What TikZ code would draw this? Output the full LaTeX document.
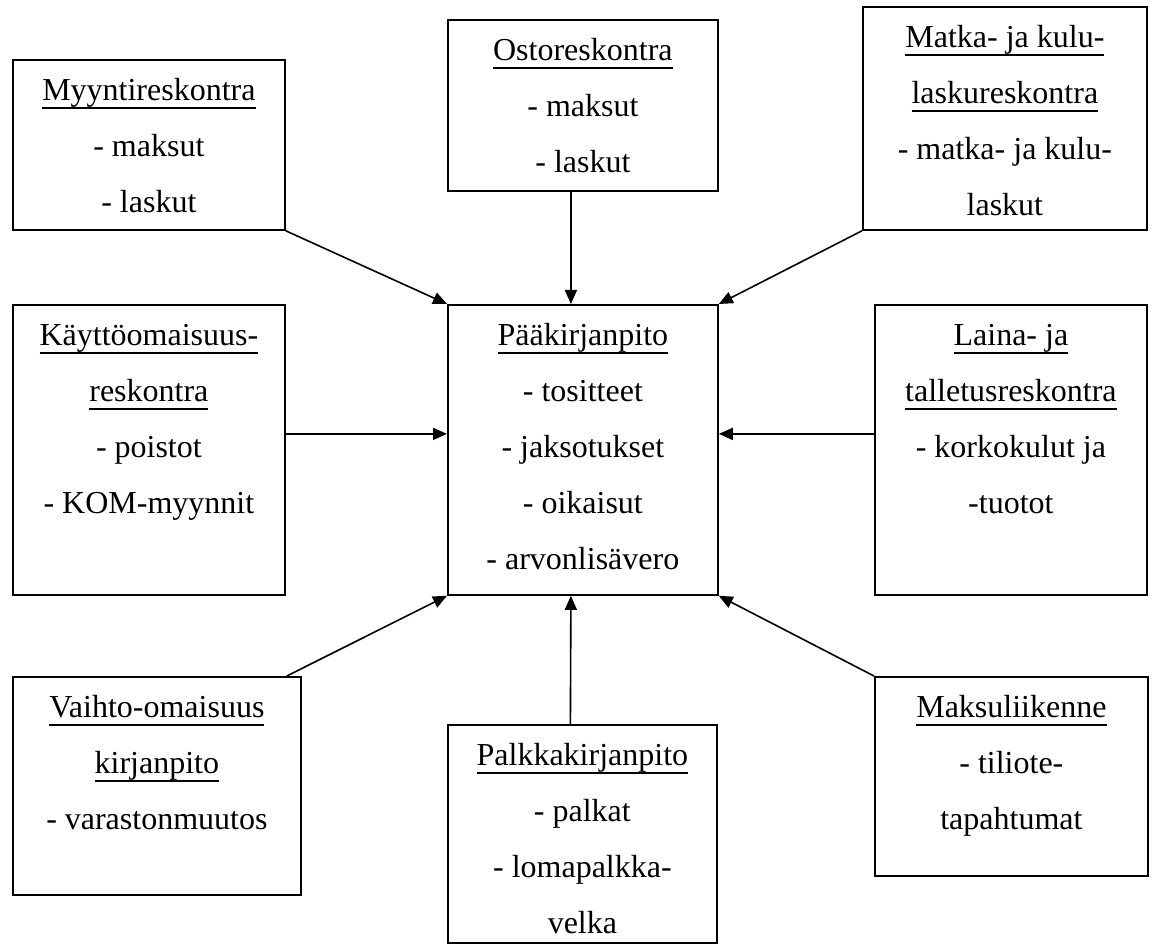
\documentclass[tikz,border=0pt]{standalone}
\usepackage{fontspec}
\setmainfont{Liberation Serif}
\usetikzlibrary{arrows.meta}
\newcommand\ulx[1]{\leavevmode\setbox0=\hbox{#1}\rlap{\rule[-8pt]{\wd0}{1.8pt}}\box0}
\newcommand\bxt[3]{\begin{minipage}[t][#2pt][t]{#1pt}\centering\fontsize{32pt}{56pt}\selectfont\rule{0pt}{41pt}#3\end{minipage}}
\tikzset{
  card/.style={draw, line width=1.8pt, inner sep=0pt, anchor=north west},
  feed/.style={line width=1.6pt, -{Triangle[length=14pt,width=12pt]}}
}
\begin{document}
\begin{tikzpicture}[x=1pt,y=-1pt]
\useasboundingbox[fill=white] (0,0) rectangle (1152,944);
\node[card] (myy) at (12,59) {\bxt{272}{170}{\ulx{Myyntireskontra}\\- maksut\\- laskut}};
\node[card] (osto) at (447,19) {\bxt{270}{171}{\ulx{Ostoreskontra}\\- maksut\\- laskut}};
\node[card] (mat) at (862,6) {\bxt{284}{223}{\ulx{Matka- ja kulu-}\\\ulx{laskureskontra}\\- matka- ja kulu-\\laskut}};
\node[card] (kay) at (12,304) {\bxt{272}{290}{\ulx{Käyttöomaisuus-}\\\ulx{reskontra}\\- poistot\\- KOM-myynnit}};
\node[card] (paa) at (447,304) {\bxt{270}{290}{\ulx{Pääkirjanpito}\\- tositteet\\- jaksotukset\\- oikaisut\\- arvonlisävero}};
\node[card] (lai) at (874,304) {\bxt{272}{290}{\ulx{Laina- ja}\\\ulx{talletusreskontra}\\- korkokulut ja\\-tuotot}};
\node[card] (vai) at (12,676) {\bxt{288}{218}{\ulx{Vaihto-omaisuus}\\\ulx{kirjanpito}\\- varastonmuutos}};
\node[card] (pal) at (447,724) {\bxt{269}{218}{\ulx{Palkkakirjanpito}\\- palkat\\- lomapalkka-\\velka}};
\node[card] (mak) at (874,676) {\bxt{273}{199}{\ulx{Maksuliikenne}\\- tiliote-\\tapahtumat}};

\draw[feed] (myy.south east) -- (paa.north west);
\draw[feed] ([xshift=-12pt]osto.south) -- ([xshift=-12pt]paa.north);
\draw[feed] (mat.south west) -- (paa.north east);
\draw[feed] ([yshift=16pt]kay.east) -- ([yshift=16pt]paa.west);
\draw[feed] ([yshift=16pt]lai.west) -- ([yshift=16pt]paa.east);
\draw[feed] ([xshift=-15pt]vai.north east) -- (paa.south west);
\draw[feed] ([xshift=-12pt]pal.north) -- ([xshift=-12pt]paa.south);
\draw[feed] (mak.north west) -- (paa.south east);
\end{tikzpicture}
\end{document}
